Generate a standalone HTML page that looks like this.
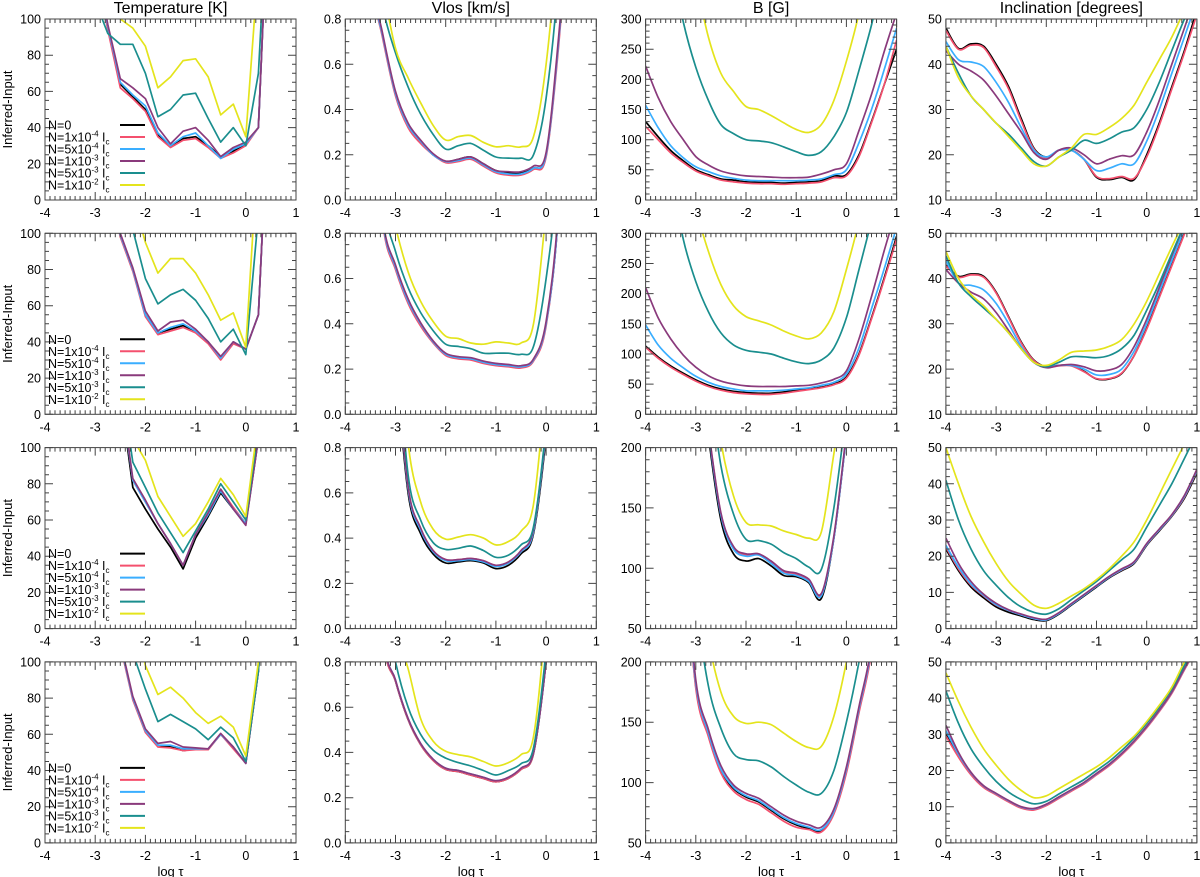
<!DOCTYPE html>
<html><head><meta charset="utf-8"><style>
html,body{margin:0;padding:0;background:#fff}
svg{display:block;font-family:"Liberation Sans",Arial,sans-serif}
</style></head><body>
<svg id="fig" width="1200" height="877" viewBox="0 0 1200 877" xmlns="http://www.w3.org/2000/svg"></svg>
<script>
const logTau = [-4,-3.75,-3.5,-3.25,-3,-2.75,-2.5,-2.25,-2,-1.75,-1.5,-1.25,-1,-0.75,-0.5,-0.25,0,0.25,0.5,0.75,1];
const seriesNames = ["N=0","N=1x10-4 Ic","N=5x10-4 Ic","N=1x10-3 Ic","N=5x10-3 Ic","N=1x10-2 Ic"];
const xTicks = [-4,-3,-2,-1,0,1];
const colTitles = ["Temperature [K]","Vlos [km/s]","B [G]","Inclination [degrees]"];

// Row 1
const T1_N0=[300,300,250,200,130,95,64,57,50,36,30,34,35,30,24,27,31,40,200,300,300];
const T1_R=[300,300,250,200,130,94,62,56,49,35,29,33,34,29,23,26,30,40,200,300,300];
const T1_B=[300,300,250,200,130,96,65,58,52,37,30,35,37,30,23,28,31,40,200,300,300];
const T1_P=[300,300,250,200,135,97,67,62,56,40,31,38,40,33,24,29,32,40,200,300,300];
const T1_T=[300,300,250,180,110,92,86,86,70,46,50,58,59,45,32,40,30,70,200,300,300];
const T1_Y=[300,300,300,250,180,130,100,95,85,62,68,77,78,68,47,53,35,130,300,300,300];
const V1_N0=[2,1.7,1.0,0.72,0.47,0.33,0.26,0.2,0.17,0.18,0.19,0.16,0.13,0.12,0.12,0.14,0.2,0.7,1.4,2,2];
const V1_R=[2,1.7,1.0,0.71,0.46,0.32,0.25,0.2,0.165,0.17,0.18,0.15,0.12,0.11,0.11,0.135,0.19,0.68,1.4,2,2];
const V1_B=[2,1.7,1.0,0.72,0.47,0.33,0.26,0.2,0.17,0.175,0.185,0.155,0.125,0.115,0.115,0.14,0.2,0.7,1.4,2,2];
const V1_P=[2,1.7,1.02,0.73,0.48,0.34,0.265,0.205,0.172,0.18,0.19,0.16,0.13,0.125,0.125,0.15,0.21,0.72,1.4,2,2];
const V1_T=[2,1.8,1.2,0.85,0.65,0.5,0.38,0.29,0.225,0.24,0.25,0.22,0.19,0.185,0.185,0.2,0.45,1.0,2,2,2];
const V1_Y=[2,2,1.3,0.95,0.67,0.54,0.43,0.33,0.265,0.28,0.285,0.255,0.235,0.24,0.235,0.28,0.6,1.2,2,2,2];
const B1_N0=[130,105,82,65,50,42,35,33,30,29,29,28,29,30,32,40,42,75,130,190,250];
const B1_R=[122,100,78,62,48,40,33,30,28,27,27,26,27,28,30,37,40,72,128,190,265];
const B1_B=[157,120,90,70,55,47,40,36,33,32,32,32,32,33,35,42,50,95,150,215,285];
const B1_P=[222,170,130,100,72,58,48,43,40,39,38,37,37,38,43,50,60,115,175,245,310];
const B1_T=[600,500,400,295,220,165,125,110,100,98,95,88,80,74,80,105,145,215,290,380,450];
const B1_Y=[700,600,500,420,360,270,210,180,155,150,140,128,117,112,125,165,230,310,420,500,500];
const I1_N0=[48,43.5,44.5,44,40,35,28,21.5,19.5,21,21,19,15,14.5,15,14.5,20,27,35,43,52];
const I1_R=[47.5,43.3,44.2,43.7,39.5,34.5,27.5,21.3,19.3,21,21,19,15.2,14.7,15.2,14.8,19.5,26.5,34.5,42.5,51];
const I1_B=[45,41,40.5,39.5,36,31.5,26,21,19.5,21,21,19,16.5,17,18,18,23,30,38,46,54];
const I1_P=[43,40,38.5,36.5,33,29,25,20.5,19,21,21.5,20,18,19,19.8,20,25,32,40,48,56];
const I1_T=[44,38,33,30,27,24.5,21.5,18.5,17.5,19.5,21,23.2,22.5,23.5,25,26,30,36,43,50,56];
const I1_Y=[44,37,33,30,27,24,21,18,17.5,19.5,21.5,24.5,24.5,26,28,31,36,41,46,52,58];
// Row 2
const T2_N0=[300,300,300,250,200,130,99,80,55,45,47,49,46,40,31,40,36,55,200,300,300];
const T2_R=[300,300,300,250,200,130,98,79,54,44,46,48,45,39,30,39,36,55,200,300,300];
const T2_B=[300,300,300,250,200,130,99,80,55,45,48,50,46,40,31,40,36,55,200,300,300];
const T2_P=[300,300,300,250,200,132,100,81,57,46,51,52,47,40,32,40,36,55,200,300,300];
const T2_T=[300,300,300,250,200,160,125,102,75,61,66,69,63,53,40,47,33,110,300,300,300];
const T2_Y=[300,300,300,250,200,180,150,120,95,78,86,86,78,66,52,56,37,150,300,300,300];
const V2_N0=[2,2,1.5,0.85,0.65,0.5,0.4,0.32,0.265,0.25,0.245,0.23,0.22,0.215,0.21,0.24,0.4,0.9,2,2,2];
const V2_R=[2,2,1.5,0.84,0.64,0.49,0.39,0.315,0.26,0.245,0.24,0.225,0.215,0.21,0.205,0.235,0.39,0.9,2,2,2];
const V2_B=[2,2,1.5,0.85,0.65,0.5,0.4,0.32,0.265,0.25,0.245,0.23,0.22,0.215,0.21,0.24,0.4,0.9,2,2,2];
const V2_P=[2,2,1.5,0.86,0.66,0.51,0.405,0.325,0.27,0.255,0.25,0.235,0.225,0.22,0.215,0.245,0.41,0.92,2,2,2];
const V2_T=[2,2,1.6,0.95,0.72,0.56,0.45,0.37,0.31,0.3,0.29,0.27,0.27,0.27,0.265,0.3,0.6,1.1,2,2,2];
const V2_Y=[2,2,1.7,1.1,0.83,0.63,0.5,0.41,0.345,0.335,0.315,0.31,0.32,0.315,0.315,0.4,0.9,1.5,2,2,2];
const B2_N0=[113,95,80,68,57,48,42,38,36,35,35,37,40,42,45,50,62,100,160,225,295];
const B2_R=[111,93,78,66,55,46,40,36,34,33,33,35,38,41,44,49,60,98,158,222,290];
const B2_B=[148,115,93,77,63,53,46,42,39,39,39,40,42,44,48,53,67,110,175,240,310];
const B2_P=[210,160,125,98,78,64,55,50,47,46,46,46,47,48,52,58,72,125,195,270,340];
const B2_T=[600,500,400,290,220,170,135,115,106,103,100,93,87,84,90,110,160,240,320,400,450];
const B2_Y=[700,600,500,420,340,270,215,180,162,155,148,138,130,125,135,170,240,320,420,500,500];
const I2_N0=[43,40.5,41,40.5,37,31.5,26,22,20.5,20.8,20.8,19.5,17.8,17.8,19,23,29,36,43,50,57];
const I2_R=[42.8,40.3,40.8,40.3,36.8,31.3,25.8,21.9,20.4,20.7,20.7,19.4,17.9,17.9,19.1,23,28.8,35.8,42.8,49.8,56.8];
const I2_B=[44,39,38.5,37.5,34.5,30,25,21.5,20.5,20.8,20.8,20,18.7,18.8,20,24,30,37,44,51,58];
const I2_P=[42,39,37,35.5,32.5,28.5,24.5,21.5,20.3,20.8,21,20.5,19.6,19.8,21,25,31,38,45,52,59];
const I2_T=[45,39,36,33.5,31,28,24.5,21.5,20.5,21.5,22.7,22.7,22.5,23,24.5,27.5,33,39,45.5,52,59];
const I2_Y=[46,40,36.5,34,31,28,24.5,21.5,20.8,22,23.7,24,24.2,25,26.5,30,35,41,47,53,60];
// Row 3
const T3_N0=[300,300,300,300,300,200,130,78,66,55,45,33,50,62,75,66,58,105,300,300,300];
const T3_R=[300,300,300,300,300,200,132,82,70,58,47,35,52,64,77,67,58,105,300,300,300];
const T3_B=[300,300,300,300,300,200,132,82,70,58,47,35,52,63,76,66,58,105,300,300,300];
const T3_P=[300,300,300,300,300,200,133,83,71,58,47,35,52,64,77,66,57,105,300,300,300];
const T3_T=[300,300,300,300,300,200,140,92,78,64,53,42,54,66,80,70,60,110,300,300,300];
const T3_Y=[300,300,300,300,300,220,160,105,93,73,62,51,58,70,83,74,62,115,300,300,300];
const V3_N0=[2,2,2,2,1.2,0.6,0.42,0.33,0.29,0.295,0.3,0.29,0.265,0.28,0.33,0.42,0.85,1.5,2,2,2];
const V3_R=[2,2,2,2,1.25,0.62,0.44,0.345,0.305,0.305,0.31,0.3,0.28,0.29,0.34,0.43,0.87,1.5,2,2,2];
const V3_B=[2,2,2,2,1.25,0.62,0.435,0.34,0.3,0.3,0.305,0.295,0.275,0.29,0.34,0.43,0.87,1.5,2,2,2];
const V3_P=[2,2,2,2,1.26,0.63,0.445,0.345,0.305,0.305,0.31,0.3,0.28,0.295,0.345,0.44,0.88,1.5,2,2,2];
const V3_T=[2,2,2,2,1.35,0.68,0.48,0.38,0.35,0.355,0.365,0.345,0.315,0.325,0.37,0.45,0.9,1.6,2,2,2];
const V3_Y=[2,2,2,2,1.5,0.82,0.56,0.44,0.395,0.405,0.415,0.4,0.37,0.385,0.43,0.55,1.1,1.8,2,2,2];
const B3_N0=[500,500,500,400,300,210,140,112,106,108,102,94,93,88,75,125,210,300,400,500,500];
const B3_R=[500,500,500,400,300,215,145,117,111,112,105,97,95,90,78,125,210,300,400,500,500];
const B3_B=[500,500,500,400,300,214,144,116,110,111,104,96,94,89,77,125,210,300,400,500,500];
const B3_P=[500,500,500,400,300,216,146,118,112,112,106,98,96,91,79,127,212,300,400,500,500];
const B3_T=[500,500,500,400,320,260,185,145,124,123,120,113,108,101,99,150,230,320,400,500,500];
const B3_Y=[500,500,500,400,340,280,205,160,138,136,135,131,128,125,130,195,260,340,400,500,500];
const I3_N0=[22,16,11.5,8.5,6,4.5,3.5,2.5,2.2,4,6.5,9,11.5,14,16,18,23,27,31,36,43];
const I3_R=[22.5,16.5,12,9,6.5,5,3.8,2.8,2.4,4.2,6.7,9.2,11.7,14.2,16.2,18.2,23.2,27.2,31.2,36.3,43.5];
const I3_B=[23,17,12.3,9.2,6.6,5,3.8,2.8,2.4,4.2,6.7,9.2,11.7,14.2,16.3,18.3,23.3,27.3,31.3,36.5,43.7];
const I3_P=[25,18,13,9.5,7,5.2,4,3,2.6,4.4,6.9,9.4,11.9,14.4,16.5,18.5,23.5,27.5,31.5,36.8,44];
const I3_T=[41,30,22,16,12,8.5,6,4.5,4,5.5,8,10.5,13,16,19,22,28,34,40,47,54];
const I3_Y=[50,40,31,24,18,13,9.5,6.5,5.6,7,9,11,13.5,16.5,20,24,30,37,44,51,58];
// Row 4
const T4_N0=[300,300,300,300,250,180,110,80,62,54,53,51,52,52,60,53,44,95,200,300,300];
const T4_R=[300,300,300,300,250,180,109,79,61,53,52.5,51,51.5,51.5,60,52,44,95,200,300,300];
const T4_B=[300,300,300,300,250,180,110,80,62,54,54,52,52,52,60,53,44,95,200,300,300];
const T4_P=[300,300,300,300,250,180,111,81,63,55,56,53,52.5,52,60.5,53,44,95,200,300,300];
const T4_T=[300,300,300,300,250,200,140,105,85,67,71,67,63,57,64,58,45,95,200,300,300];
const T4_Y=[300,300,300,300,250,220,170,130,98,82,86,80,72,66,70,64,48,100,200,300,300];
const V4_N0=[2,2,2,0.94,0.715,0.545,0.435,0.365,0.325,0.315,0.3,0.285,0.27,0.285,0.325,0.395,0.8,1.4,2,2,2];
const V4_R=[2,2,2,0.94,0.715,0.545,0.435,0.365,0.325,0.315,0.3,0.285,0.27,0.285,0.325,0.395,0.8,1.4,2,2,2];
const V4_B=[2,2,2,0.95,0.72,0.55,0.44,0.37,0.33,0.32,0.305,0.29,0.275,0.29,0.33,0.4,0.8,1.4,2,2,2];
const V4_P=[2,2,2,0.95,0.72,0.55,0.44,0.37,0.33,0.32,0.305,0.29,0.275,0.29,0.33,0.4,0.8,1.4,2,2,2];
const V4_T=[2,2,2,1.1,0.8,0.6,0.48,0.41,0.375,0.355,0.34,0.32,0.3,0.32,0.35,0.42,0.85,1.5,2,2,2];
const V4_Y=[2,2,2,1.3,0.95,0.77,0.55,0.45,0.405,0.39,0.38,0.36,0.34,0.355,0.39,0.47,1.0,1.7,2,2,2];
const B4_N0=[500,500,400,300,180,140,110,95,88,84,77,70,65,62,60,75,110,160,210,300,400];
const B4_R=[500,500,400,300,178,138,108,93,86,82,75,68,63,61,59,74,108,158,208,300,400];
const B4_B=[500,500,400,300,182,141,111,96,89,85,78,71,66,63,61,76,111,161,211,300,400];
const B4_P=[500,500,400,310,185,144,114,98,91,87,80,73,68,65,63,78,113,163,213,300,400];
const B4_T=[500,500,450,350,250,180,145,124,119,118,113,105,98,92,91,110,150,200,260,350,400];
const B4_Y=[500,500,450,400,300,220,175,155,149,150,148,141,134,129,130,155,200,260,350,400,400];
const I4_N0=[30,24,19,15.5,13.5,11.5,9.8,9.3,10.5,12.5,14.5,16.5,19,21.5,24.5,28,32,36.5,41.5,48,54];
const I4_R=[29.5,23.7,18.8,15.3,13.3,11.3,9.6,9.1,10.3,12.3,14.3,16.3,18.8,21.3,24.3,27.8,31.8,36.3,41.3,47.8,53.8];
const I4_B=[31,24.5,19.3,15.7,13.6,11.6,9.9,9.4,10.6,12.6,14.6,16.6,19.1,21.6,24.6,28.1,32.1,36.6,41.6,48.1,54.1];
const I4_P=[32.5,25,19.5,15.8,13.7,11.7,10,9.5,10.7,12.7,14.7,16.7,19.2,21.7,24.7,28.2,32.2,36.7,41.7,48.2,54.2];
const I4_T=[42,33,26,21,17,14,12,10.8,11.5,13.5,15.5,17.5,20,22.5,25.5,29,33,37.5,42.5,49,55];
const I4_Y=[47,39,32,26,21.5,17.5,14.5,12.5,13,15,17,19,21,23.5,26.5,29.5,33.5,38,43,50,56];

const tempTicks=[0,20,40,60,80,100];
const vlosTicks=[0,0.2,0.4,0.6,0.8];
const bTicksHigh=[0,50,100,150,200,250,300];
const bTicksLow=[50,100,150,200];
const incTicksHigh=[10,20,30,40,50];
const incTicksLow=[0,10,20,30,40,50];

const grid=[
 [{s:[T1_N0,T1_R,T1_B,T1_P,T1_T,T1_Y],t:tempTicks,m:5,f:0},{s:[V1_N0,V1_R,V1_B,V1_P,V1_T,V1_Y],t:vlosTicks,m:0.05,f:1},{s:[B1_N0,B1_R,B1_B,B1_P,B1_T,B1_Y],t:bTicksHigh,m:10,f:0},{s:[I1_N0,I1_R,I1_B,I1_P,I1_T,I1_Y],t:incTicksHigh,m:2,f:0}],
 [{s:[T2_N0,T2_R,T2_B,T2_P,T2_T,T2_Y],t:tempTicks,m:5,f:0},{s:[V2_N0,V2_R,V2_B,V2_P,V2_T,V2_Y],t:vlosTicks,m:0.05,f:1},{s:[B2_N0,B2_R,B2_B,B2_P,B2_T,B2_Y],t:bTicksHigh,m:10,f:0},{s:[I2_N0,I2_R,I2_B,I2_P,I2_T,I2_Y],t:incTicksHigh,m:2,f:0}],
 [{s:[T3_N0,T3_R,T3_B,T3_P,T3_T,T3_Y],t:tempTicks,m:5,f:0},{s:[V3_N0,V3_R,V3_B,V3_P,V3_T,V3_Y],t:vlosTicks,m:0.05,f:1},{s:[B3_N0,B3_R,B3_B,B3_P,B3_T,B3_Y],t:bTicksLow,m:10,f:0},{s:[I3_N0,I3_R,I3_B,I3_P,I3_T,I3_Y],t:incTicksLow,m:2,f:0}],
 [{s:[T4_N0,T4_R,T4_B,T4_P,T4_T,T4_Y],t:tempTicks,m:5,f:0},{s:[V4_N0,V4_R,V4_B,V4_P,V4_T,V4_Y],t:vlosTicks,m:0.05,f:1},{s:[B4_N0,B4_R,B4_B,B4_P,B4_T,B4_Y],t:bTicksLow,m:10,f:0},{s:[I4_N0,I4_R,I4_B,I4_P,I4_T,I4_Y],t:incTicksLow,m:2,f:0}]
];
const colors=["#000000","#f4506e","#3aaeff","#8a3a7c","#1a8e8e","#e4e41c"];
const rowKeys=["row1","row2","row3","row4"];
const colKeys=["temperature","vlos","b","inclination"];

const NS="http://www.w3.org/2000/svg";
const svg=document.getElementById('fig');
function mk(tag,attrs,parent){const e=document.createElementNS(NS,tag);for(const k in attrs)e.setAttribute(k,attrs[k]);(parent||svg).appendChild(e);return e;}
function smoothPath(p){
  let d='M'+p[0][0].toFixed(1)+','+p[0][1].toFixed(1);
  for(let i=0;i<p.length-1;i++){
    const p0=p[Math.max(0,i-1)],p1=p[i],p2=p[i+1],p3=p[Math.min(p.length-1,i+2)];
    const c1x=p1[0]+(p2[0]-p0[0])/6,c1y=p1[1]+(p2[1]-p0[1])/6;
    const c2x=p2[0]-(p3[0]-p1[0])/6,c2y=p2[1]-(p3[1]-p1[1])/6;
    d+=`C${c1x.toFixed(1)},${c1y.toFixed(1)} ${c2x.toFixed(1)},${c2y.toFixed(1)} ${p2[0].toFixed(1)},${p2[1].toFixed(1)}`;
  }
  return d;
}

const PW=251, PH=181;
for(let c=0;c<4;c++){
  const t=mk('text',{x:45+c*300.3+PW/2,y:13,'text-anchor':'middle','font-size':'16'});
  
  
  t.textContent=colTitles[c];
}
for(let r=0;r<4;r++){
  const top=19+r*214.3;
  const yl=mk('text',{x:0,y:0,'text-anchor':'middle','font-size':'13',transform:`translate(12,${top+PH/2}) rotate(-90)`});
  
  
  yl.textContent='Inferred-Input';
  for(let c=0;c<4;c++){
    const P=grid[r][c];
    const left=45+c*300.3;
    const ymin=P.t[0], ymax=P.t[P.t.length-1];
    const sx=v=>left+(v+4)/5*PW;
    const sy=v=>top+PH-(v-ymin)/(ymax-ymin)*PH;
    const g=mk('g',{});
    
    
    const cid='clip'+r+c;
    const cp=mk('clipPath',{id:cid},g);
    mk('rect',{x:left,y:top,width:PW,height:PH},cp);
    const lg=mk('g',{'clip-path':`url(#${cid})`},g);
    P.s.forEach((arr,i)=>{
      const pts=arr.map((v,j)=>[sx(logTau[j]),sy(v)]);
      let el;
      if(c===0){
        el=mk('polyline',{points:pts.map(q=>q[0].toFixed(1)+','+q[1].toFixed(1)).join(' '),fill:'none',stroke:colors[i],'stroke-width':'1.7','stroke-linejoin':'round'},lg);
      } else {
        el=mk('path',{d:smoothPath(pts),fill:'none',stroke:colors[i],'stroke-width':'1.7','stroke-linejoin':'round'},lg);
      }
      
      
    });
    const fr=mk('rect',{x:left,y:top,width:PW,height:PH,fill:'none',stroke:'#444','stroke-width':'1'},g);
    
    
    let d='';
    for(let k=0;k<=50;k++){
      const v=-4+k*0.1, x=sx(v), L=(k%10===0)?8:4;
      d+=`M${x.toFixed(1)},${top+PH}v${-L}M${x.toFixed(1)},${top}v${L}`;
    }
    const nm=Math.round((ymax-ymin)/P.m);
    for(let k=0;k<=nm;k++){
      const v=ymin+k*P.m, y=sy(v);
      const major=P.t.some(t=>Math.abs(t-v)<1e-6);
      const L=major?8:4;
      d+=`M${left},${y.toFixed(1)}h${L}M${left+PW},${y.toFixed(1)}h${-L}`;
    }
    mk('path',{d:d,stroke:'#444','stroke-width':'1',fill:'none'},g);
    xTicks.forEach(v=>{
      const tl=mk('text',{x:sx(v),y:top+PH+17,'text-anchor':'middle','font-size':'12.5'},g);
      
      
      tl.textContent=String(v);
    });
    P.t.forEach(v=>{
      const tl=mk('text',{x:left-4,y:sy(v)+4.5,'text-anchor':'end','font-size':'12.5'},g);
      
      
      tl.textContent=P.f?v.toFixed(1):String(v);
    });
    if(r===3){
      const xl=mk('text',{x:left+PW/2,y:top+PH+33,'text-anchor':'middle','font-size':'13'},g);
      
      
      xl.textContent='log τ';
    }
    if(c===0){
      const leg=mk('g',{},g);
      
      
      const exps=[null,'-4','-4','-3','-3','-2'];
      const mant=[null,'1','5','1','5','1'];
      for(let i=0;i<6;i++){
        const y=top+106+i*12;
        const e=mk('g',{},leg);
        
        
        const tx=mk('text',{x:left+3,y:y+4.5,'font-size':'12.5'},e);
        if(i===0){tx.textContent='N=0';}
        else{
          const a=mk('tspan',{},tx);a.textContent='N='+mant[i]+'x10';
          const b=mk('tspan',{dy:'-5','font-size':'8'},tx);b.textContent=exps[i];
          const cc=mk('tspan',{dy:'5'},tx);cc.textContent=' I';
          const d2=mk('tspan',{dy:'3','font-size':'8'},tx);d2.textContent='c';
        }
        mk('line',{x1:left+75,x2:left+100,y1:y,y2:y,stroke:colors[i],'stroke-width':'2'},e);
      }
    }
  }
}
</script>
</body></html>
